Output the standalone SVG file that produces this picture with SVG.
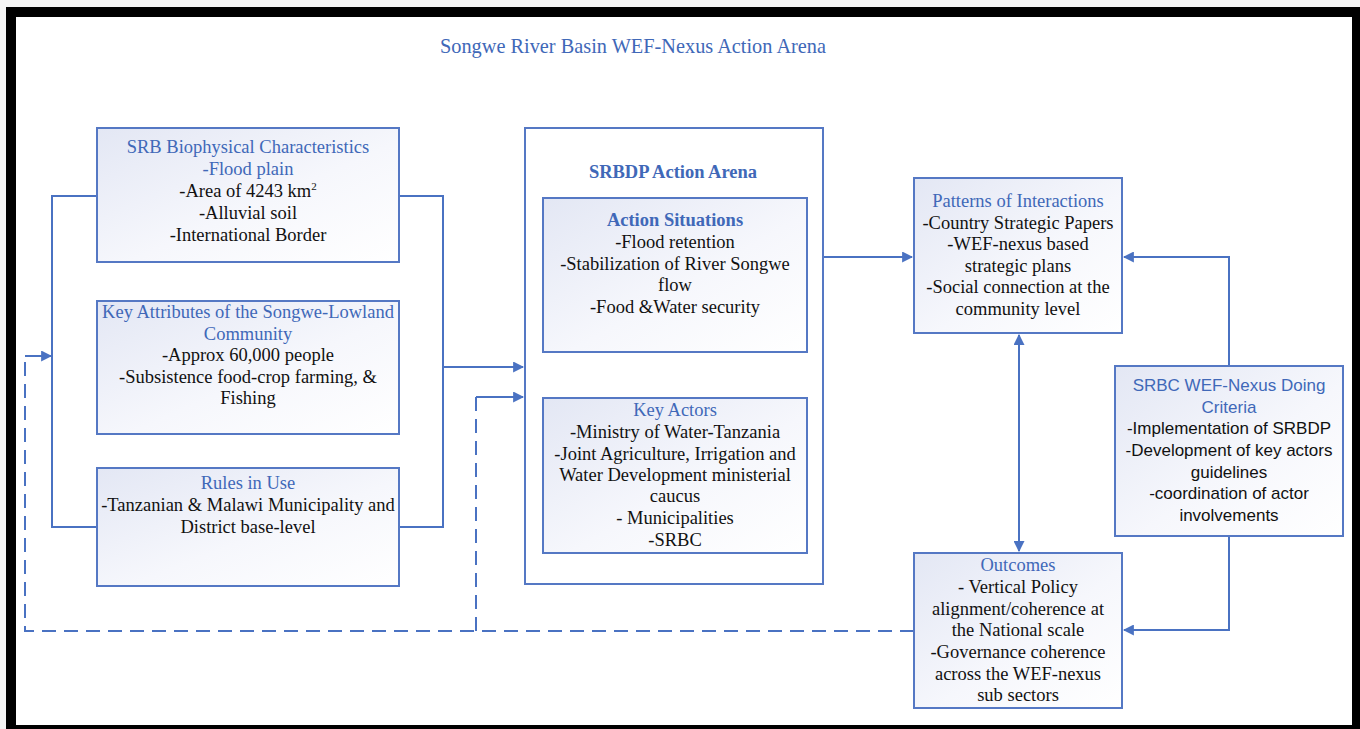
<svg xmlns="http://www.w3.org/2000/svg" width="1360" height="729" viewBox="0 0 1360 729">
  <defs>
    <linearGradient id="boxFill" x1="0" y1="0" x2="1" y2="1">
      <stop offset="0" stop-color="#e3e7f4"/>
      <stop offset="0.55" stop-color="#f6f7fc"/>
      <stop offset="1" stop-color="#ffffff"/>
    </linearGradient>
    <marker id="arrow" viewBox="0 0 10 10" refX="9" refY="5" markerWidth="11" markerHeight="11" markerUnits="userSpaceOnUse" orient="auto-start-reverse">
      <path d="M0,0 L10,5 L0,10 z" fill="#4a72c2"/>
    </marker>
    <style>
      .box { fill: url(#boxFill); stroke: #5578c4; stroke-width: 2; }
      .plain { fill: #ffffff; stroke: #5578c4; stroke-width: 2; }
      .line { fill: none; stroke: #4a72c2; stroke-width: 2; }
      .dash { fill: none; stroke: #4a72c2; stroke-width: 2; stroke-dasharray: 14 8; }
      text { font-family: "Liberation Serif", "Times New Roman", serif; font-size: 18.5px; text-anchor: middle; fill: #111111; }
      .hd { fill: #4068b8; }
      .bold { font-weight: bold; }
      .sans { font-family: "Liberation Sans", Arial, sans-serif; font-size: 17px; }
    </style>
  </defs>

  <!-- page frame -->
  <rect x="0" y="0" width="1360" height="729" fill="#f4f4f4"/>
  <rect x="6" y="7" width="1354" height="722" fill="#000000"/>
  <rect x="16" y="17" width="1336" height="708" fill="#ffffff"/>

  <text x="633" y="53" class="hd" style="font-size:21px" textLength="386" lengthAdjust="spacingAndGlyphs">Songwe River Basin WEF-Nexus Action Arena</text>

  <!-- connectors -->
  <g id="connectors">
    <!-- bracket joining the three context boxes -->
    <path class="line" d="M97,196 H52 V527 H97"/>
    <path class="line" d="M399,196 H443 V527 H399"/>
    <path class="line" d="M443,367 H523" marker-end="url(#arrow)"/>
    <!-- feedback loop from outcomes -->
    <path class="dash" d="M914,631 H25 V356"/>
    <path class="line" d="M25,356 H51" marker-end="url(#arrow)"/>
    <path class="dash" d="M476,631 V397"/>
    <path class="line" d="M476,397 H523" marker-end="url(#arrow)"/>
    <!-- arena to patterns -->
    <path class="line" d="M823,257 H912" marker-end="url(#arrow)"/>
    <!-- patterns to outcomes, both ways -->
    <path class="line" d="M1019,335 V551" marker-start="url(#arrow)" marker-end="url(#arrow)"/>
    <!-- doing criteria to patterns and outcomes -->
    <path class="line" d="M1229,366 V257 H1124" marker-end="url(#arrow)"/>
    <path class="line" d="M1229,536 V630 H1124" marker-end="url(#arrow)"/>
  </g>

  <g id="biophysical">
    <rect class="box" x="97" y="128" width="302" height="134"/>
    <text x="248" y="153" class="hd">SRB Biophysical Characteristics</text>
    <text x="248" y="175" class="hd">-Flood plain</text>
    <text x="248" y="197">-Area of 4243 km<tspan dy="-7" style="font-size:11px">2</tspan></text>
    <text x="248" y="219">-Alluvial soil</text>
    <text x="248" y="241">-International Border</text>
  </g>

  <g id="community">
    <rect class="box" x="97" y="301" width="302" height="133"/>
    <text x="248" y="318" class="hd">Key Attributes of the Songwe-Lowland</text>
    <text x="248" y="340" class="hd">Community</text>
    <text x="248" y="361">-Approx 60,000 people</text>
    <text x="248" y="383">-Subsistence food-crop farming, &amp;</text>
    <text x="248" y="404">Fishing</text>
  </g>

  <g id="rules">
    <rect class="box" x="97" y="468" width="302" height="118"/>
    <text x="248" y="489" class="hd">Rules in Use</text>
    <text x="248" y="511">-Tanzanian &amp; Malawi Municipality and</text>
    <text x="248" y="533">District base-level</text>
  </g>

  <g id="arena">
    <rect class="plain" x="525" y="128" width="298" height="456"/>
    <text x="673" y="178" class="hd bold">SRBDP Action Arena</text>
  </g>

  <g id="situations">
    <rect class="box" x="543" y="198" width="264" height="154"/>
    <text x="675" y="226" class="hd bold">Action Situations</text>
    <text x="675" y="248">-Flood retention</text>
    <text x="675" y="270">-Stabilization of River Songwe</text>
    <text x="675" y="291">flow</text>
    <text x="675" y="313">-Food &amp;Water security</text>
  </g>

  <g id="actors">
    <rect class="box" x="543" y="398" width="264" height="155"/>
    <text x="675" y="416" class="hd">Key Actors</text>
    <text x="675" y="438">-Ministry of Water-Tanzania</text>
    <text x="675" y="460">-Joint Agriculture, Irrigation and</text>
    <text x="675" y="481">Water Development ministerial</text>
    <text x="675" y="502">caucus</text>
    <text x="675" y="524">- Municipalities</text>
    <text x="675" y="546">-SRBC</text>
  </g>

  <g id="patterns">
    <rect class="box" x="914" y="178" width="208" height="155"/>
    <text x="1018" y="207" class="hd">Patterns of Interactions</text>
    <text x="1018" y="229">-Country Strategic Papers</text>
    <text x="1018" y="250">-WEF-nexus based</text>
    <text x="1018" y="272">strategic plans</text>
    <text x="1018" y="293">-Social connection at the</text>
    <text x="1018" y="315">community level</text>
  </g>

  <g id="criteria">
    <rect class="box" x="1115" y="366" width="228" height="170"/>
    <text x="1229" y="391" class="sans hd">SRBC WEF-Nexus Doing</text>
    <text x="1229" y="413" class="sans hd">Criteria</text>
    <text x="1229" y="434" class="sans">-Implementation of SRBDP</text>
    <text x="1229" y="456" class="sans">-Development of key actors</text>
    <text x="1229" y="478" class="sans">guidelines</text>
    <text x="1229" y="499" class="sans">-coordination of actor</text>
    <text x="1229" y="521" class="sans">involvements</text>
  </g>

  <g id="outcomes">
    <rect class="box" x="914" y="553" width="208" height="155"/>
    <text x="1018" y="571" class="hd">Outcomes</text>
    <text x="1018" y="593">- Vertical Policy</text>
    <text x="1018" y="615">alignment/coherence at</text>
    <text x="1018" y="636">the National scale</text>
    <text x="1018" y="658">-Governance coherence</text>
    <text x="1018" y="680">across the WEF-nexus</text>
    <text x="1018" y="701">sub sectors</text>
  </g>
</svg>
